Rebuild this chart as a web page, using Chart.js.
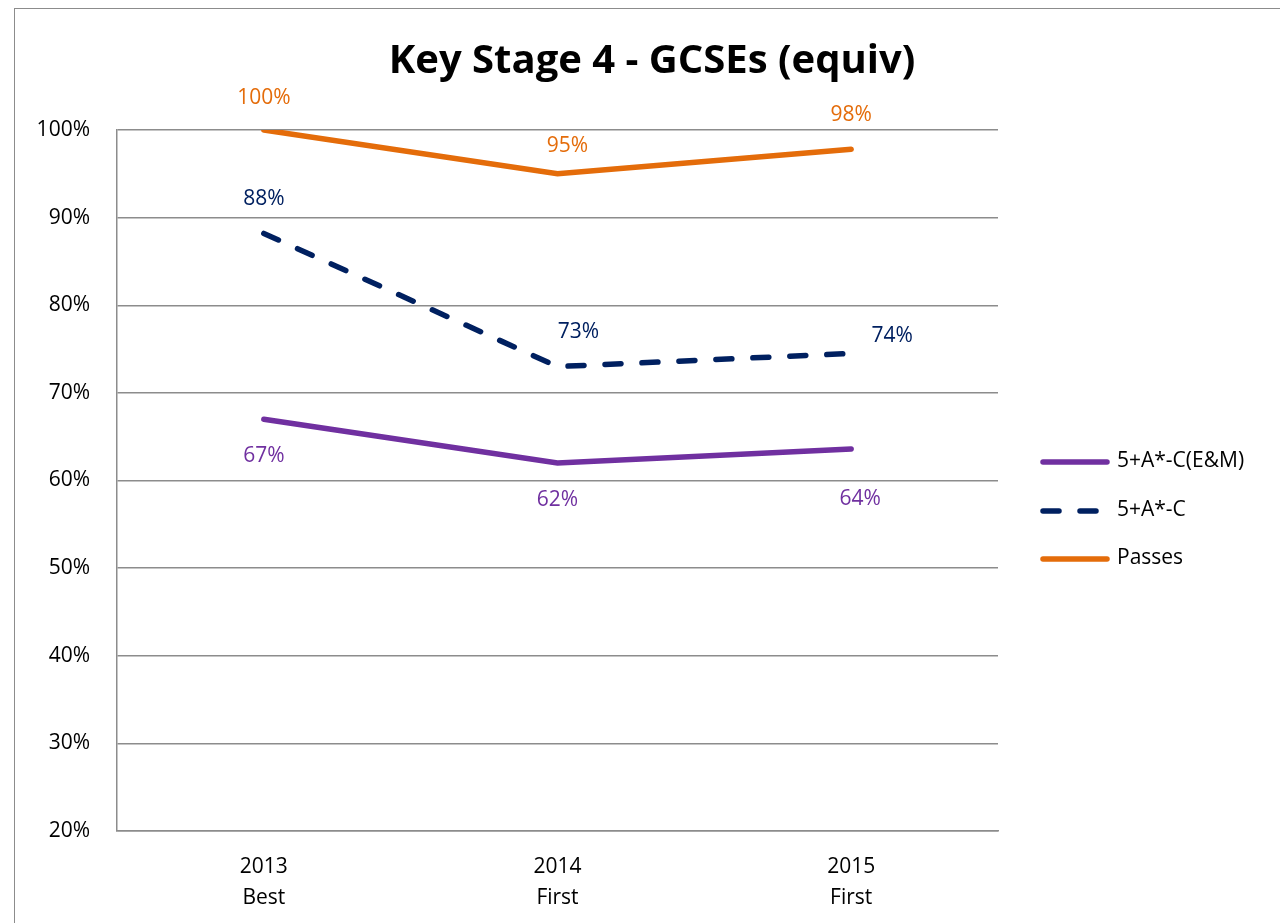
<!DOCTYPE html>
<html>
<head>
<meta charset="utf-8">
<script src="https://cdn.jsdelivr.net/npm/chart.js@4/dist/chart.umd.min.js"></script>
<style>
    html, body { margin: 0; padding: 0; background: #fff; overflow: hidden; }
    #frame { position: absolute; left: 14px; top: 8px; width: 1400px; height: 1000px; border: 1.5px solid #8c8c8c; }
    #chart { position: absolute; left: 0; top: 0; }
</style>
</head>
<body>
<div id="frame"></div>
<canvas id="chart" width="1280" height="923"></canvas>
<script>
// Chart data
const years = [['2013', 'Best'], ['2014', 'First'], ['2015', 'First']];
const emScores = [67, 62, 63.6];
const acScores = [88.2, 73, 74.5];
const passScores = [100, 95, 97.8];
const emLabels = ['67%', '62%', '64%'];
const acLabels = ['88%', '73%', '74%'];
const passLabels = ['100%', '95%', '98%'];
const seriesNames = ['5+A*-C(E&M)', '5+A*-C', 'Passes'];

const FONT = "'Open Sans', sans-serif";

// data label offsets per point (dx, dy from the point)
const labelOffsets = [
    [[0, 37], [0, 37], [9, 50]],
    [[0, -34], [21, -35], [41, -17]],
    [[0, -32], [10, -28], [0, -34]]
];

const pointLabels = {
    id: 'pointLabels',
    afterDatasetsDraw(chart) {
        const ctx = chart.ctx;
        const texts = [emLabels, acLabels, passLabels];
        ctx.save();
        ctx.font = '21px ' + FONT;
        ctx.textAlign = 'center';
        ctx.textBaseline = 'middle';
        chart.data.datasets.forEach((ds, i) => {
            ctx.fillStyle = ds.borderColor;
            chart.getDatasetMeta(i).data.forEach((pt, j) => {
                const off = labelOffsets[i][j];
                ctx.fillText(texts[i][j], pt.x + off[0], pt.y + off[1]);
            });
        });
        ctx.restore();
    }
};

const sideLegend = {
    id: 'sideLegend',
    afterDraw(chart) {
        const ctx = chart.ctx;
        const rows = [462, 511, 559];
        ctx.save();
        chart.data.datasets.forEach((ds, i) => {
            ctx.strokeStyle = ds.borderColor;
            ctx.lineWidth = 5.5;
            ctx.lineCap = 'round';
            ctx.setLineDash(ds.borderDash || []);
            ctx.beginPath();
            ctx.moveTo(1043, rows[i]);
            ctx.lineTo(1107, rows[i]);
            ctx.stroke();
            ctx.setLineDash([]);
            ctx.fillStyle = '#000';
            ctx.font = '21px ' + FONT;
            ctx.textAlign = 'left';
            ctx.textBaseline = 'middle';
            ctx.fillText(ds.label, 1117, rows[i] - 1);
        });
        ctx.restore();
    }
};

const bigTitle = {
    id: 'bigTitle',
    afterDraw(chart) {
        const ctx = chart.ctx;
        ctx.save();
        ctx.font = 'bold 40px ' + FONT;
        ctx.fillStyle = '#000';
        ctx.textAlign = 'center';
        ctx.textBaseline = 'middle';
        ctx.fillText('Key Stage 4 - GCSEs (equiv)', 652, 62);
        ctx.restore();
    }
};

new Chart(document.getElementById('chart'), {
    type: 'line',
    data: {
        labels: years,
        datasets: [{
            label: seriesNames[0],
            data: emScores,
            borderColor: '#7030A0',
            borderWidth: 5.5,
            pointRadius: 0,
            borderCapStyle: 'round'
        },
        {
            label: seriesNames[1],
            data: acScores,
            borderColor: '#002060',
            borderWidth: 5.5,
            borderDash: [16, 21],
            pointRadius: 0,
            borderCapStyle: 'round'
        },
        {
            label: seriesNames[2],
            data: passScores,
            borderColor: '#E46C0A',
            borderWidth: 5.5,
            pointRadius: 0,
            borderCapStyle: 'round'
        }]
    },
    options: {
        responsive: false,
        animation: false,
        layout: {
            padding: { left: 0, top: 130, right: 282, bottom: 0 }
        },
        plugins: {
            legend: { display: false },
            title: { display: false },
            tooltip: { enabled: false }
        },
        scales: {
            x: {
                offset: true,
                grid: { display: false, drawTicks: false },
                border: { color: '#8c8c8c', width: 1.5 },
                ticks: {
                    color: '#000',
                    padding: 20,
                    font: { family: FONT, size: 21, lineHeight: 1.48 }
                },
                afterFit: s => { s.height = 92; }
            },
            y: {
                min: 20,
                max: 100,
                grid: { color: '#8c8c8c', lineWidth: 1.5, drawTicks: false },
                border: { color: '#8c8c8c', width: 1.5 },
                ticks: {
                    stepSize: 10,
                    color: '#000',
                    padding: 27,
                    font: { family: FONT, size: 21 },
                    callback: v => v + '%'
                },
                afterFit: s => { s.width = 117; }
            }
        }
    },
    plugins: [pointLabels, sideLegend, bigTitle]
});
</script>
</body>
</html>
